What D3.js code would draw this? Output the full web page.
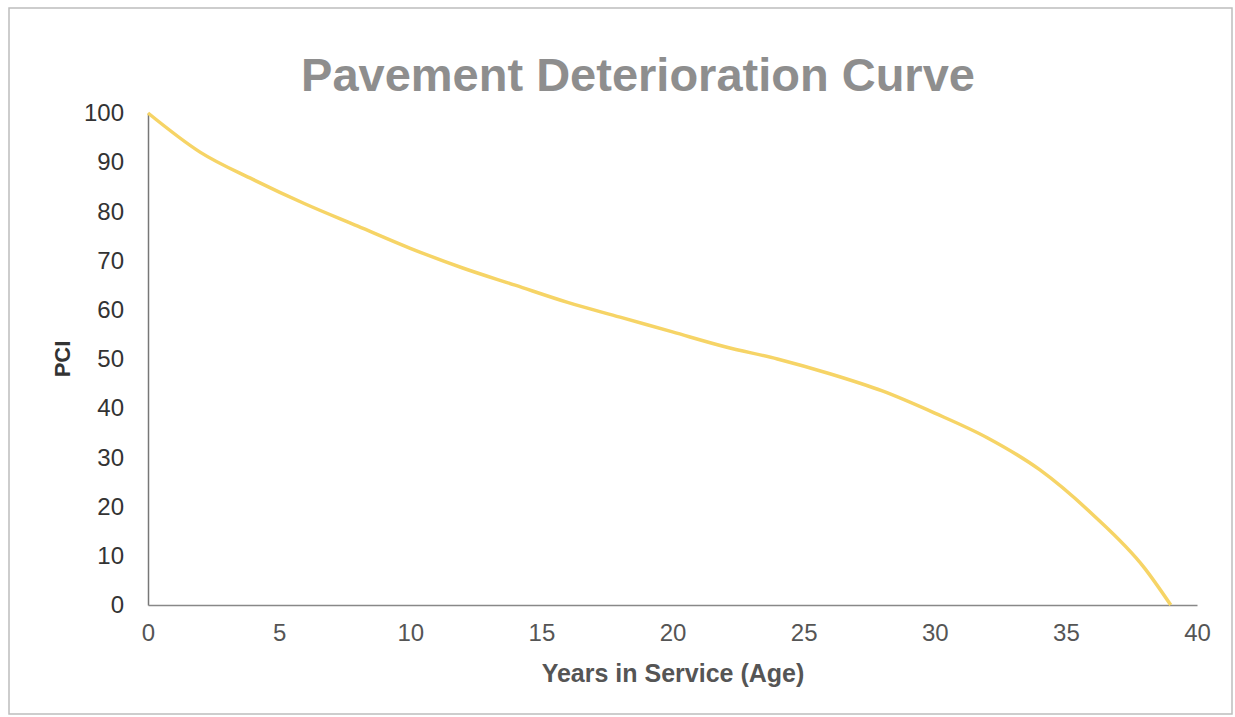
<!DOCTYPE html>
<html>
<head>
<meta charset="utf-8">
<script src="https://cdn.jsdelivr.net/npm/d3@7"></script>
<style>
  body { margin: 0; background: #fff; }
  svg { display: block; }
</style>
</head>
<body>
<svg id="chart"></svg>
<script>
// Years in service and the PCI
const years = [0, 2, 4, 6, 8, 10, 12, 14, 16, 18, 20, 22, 24, 26, 28, 30, 32, 34, 36, 38, 39];
const pci = [100, 92, 86.5, 81.5, 77, 72.5, 68.5, 65, 61.5, 58.5, 55.5, 52.5, 50, 47, 43.5, 39, 34, 27.5, 18.5, 7.5, 0];
const xTicks = [0, 5, 10, 15, 20, 25, 30, 35, 40];
const yTicks = [0, 10, 20, 30, 40, 50, 60, 70, 80, 90, 100];

const W = 1235, H = 717;
const margin = { top: 113, right: 38, bottom: 112, left: 148 };
const width = W - margin.left - margin.right;
const height = H - margin.top - margin.bottom;
const font = "Liberation Sans, Arial, sans-serif";

const svg = d3.select("#chart").attr("width", W).attr("height", H);

// outer frame
svg.append("rect")
  .attr("x", 9).attr("y", 8)
  .attr("width", 1223).attr("height", 706)
  .attr("fill", "none")
  .attr("stroke", "#bdbdbd")
  .attr("stroke-width", 1.5);

svg.append("text")
  .attr("x", 638)
  .attr("y", 91)
  .attr("text-anchor", "middle")
  .attr("font-family", font)
  .attr("font-weight", "bold")
  .attr("font-size", "47px")
  .attr("fill", "#8e8e8e")
  .text("Pavement Deterioration Curve");

const g = svg.append("g")
  .attr("transform", `translate(${margin.left},${margin.top})`);

const x = d3.scaleLinear().domain([0, 40]).range([0, width]);
const y = d3.scaleLinear().domain([0, 100]).range([height, 0]);

// y axis
const yAxis = g.append("g")
  .call(d3.axisLeft(y).tickValues(yTicks).tickSize(0).tickPadding(24));
yAxis.select(".domain").attr("stroke", "#777").attr("stroke-width", 1.5);
yAxis.selectAll("text")
  .attr("font-family", font)
  .attr("font-size", "24px")
  .attr("fill", "#333");

// x axis
const xAxis = g.append("g")
  .attr("transform", `translate(0,${height})`)
  .call(d3.axisBottom(x).tickValues(xTicks).tickSize(0).tickPadding(19));
xAxis.select(".domain").attr("stroke", "#888").attr("stroke-width", 1.5);
xAxis.selectAll("text")
  .attr("font-family", font)
  .attr("font-size", "24px")
  .attr("fill", "#555");

// deterioration curve
const line = d3.line()
  .x((d, i) => x(years[i]))
  .y(d => y(d))
  .curve(d3.curveMonotoneX);

g.append("path")
  .datum(pci)
  .attr("d", line)
  .attr("fill", "none")
  .attr("stroke", "#f6d466")
  .attr("stroke-width", 3.5)
  .attr("stroke-linejoin", "round");

// axis titles
svg.append("text")
  .attr("x", 673)
  .attr("y", 682)
  .attr("text-anchor", "middle")
  .attr("font-family", font)
  .attr("font-weight", "bold")
  .attr("font-size", "25px")
  .attr("fill", "#555")
  .text("Years in Service (Age)");

svg.append("text")
  .attr("transform", "translate(70,359) rotate(-90)")
  .attr("text-anchor", "middle")
  .attr("font-family", font)
  .attr("font-weight", "bold")
  .attr("font-size", "22px")
  .attr("fill", "#333")
  .text("PCI");
</script>
</body>
</html>
